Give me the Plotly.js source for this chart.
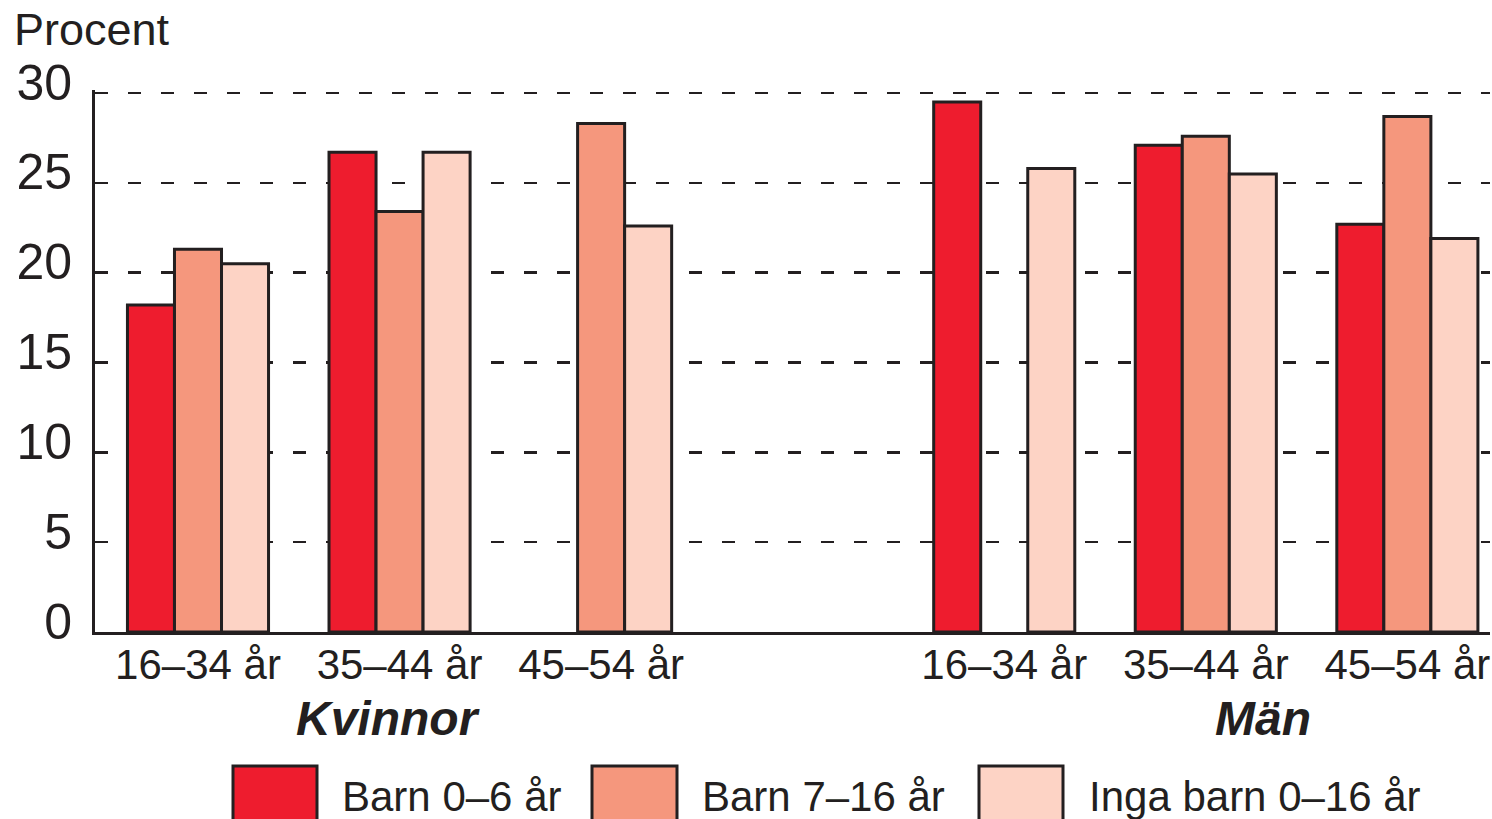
<!DOCTYPE html>
<html>
<head>
<meta charset="utf-8">
<script src="https://cdn.plot.ly/plotly-3.0.1.min.js"></script>
<style>html,body{margin:0;padding:0;background:#fff;}#chart{width:1492px;height:819px;}</style>
</head>
<body>
<div id="chart"></div>
<script>
// Data
const positions = [0, 1, 2, 4, 5, 6];
const tickLabels = ["16–34 år", "35–44 år", "45–54 år", "16–34 år", "35–44 år", "45–54 år"];
const seriesNames = ["Barn 0–6 år", "Barn 7–16 år", "Inga barn 0–16 år"];
const barn06 = [18.2, 26.7, null, 29.5, 27.1, 22.7];
const barn716 = [21.3, 23.4, 28.3, null, 27.6, 28.7];
const ingaBarn = [20.5, 26.7, 22.6, 25.8, 25.5, 21.9];
const groupLabels = ["Kvinnor", "Män"];
const yTicks = [0, 5, 10, 15, 20, 25, 30];

const colors = ["#EE1C2E", "#F5977D", "#FDD3C5"];
const outline = "#231F20";
const FONT = "Liberation Sans, Arial, Helvetica, sans-serif";

const seriesValues = [barn06, barn716, ingaBarn];
const traces = seriesValues.map((vals, i) => ({
  type: "bar",
  x: positions,
  y: vals,
  name: seriesNames[i],
  marker: {color: colors[i], line: {color: outline, width: 3}},
  hoverinfo: "x+y+name"
}));

// legend drawn as shapes + annotations (paper coords)
const TOP = 90, L = 95, W = 1395, B = 632, H = B - TOP;
const px = v => (v - L) / W;
const py = v => (B - v) / H;
const legendBoxes = [[233, 317, 340], [592, 677, 700], [979, 1063, 1087]];
const shapes = legendBoxes.map((b, i) => ({
  type: "rect", xref: "paper", yref: "paper",
  x0: px(b[0]), x1: px(b[1]), y0: py(766), y1: py(830),
  fillcolor: colors[i], line: {color: outline, width: 3}
}));
const annotations = legendBoxes.map((b, i) => ({
  xref: "paper", yref: "paper", x: px(b[2]), y: py(796),
  xanchor: "left", yanchor: "middle", showarrow: false,
  text: seriesNames[i], font: {family: FONT, size: 42, color: outline}
}));
annotations.push({
  xref: "paper", yref: "paper", x: px(12), y: py(30),
  xanchor: "left", yanchor: "middle", showarrow: false,
  text: "Procent", font: {family: FONT, size: 45, color: outline}
});
annotations.push({
  xref: "paper", yref: "paper", x: px(388), y: py(718),
  xanchor: "center", yanchor: "middle", showarrow: false,
  text: "<b><i>" + groupLabels[0] + "</i></b>", font: {family: FONT, size: 48, color: outline}
});
annotations.push({
  xref: "paper", yref: "paper", x: px(1263), y: py(718),
  xanchor: "center", yanchor: "middle", showarrow: false,
  text: "<b><i>" + groupLabels[1] + "</i></b>", font: {family: FONT, size: 48, color: outline}
});

const layout = {
  width: 1492, height: 819,
  margin: {l: 95, r: 2, t: TOP, b: 819 - B, pad: 0},
  paper_bgcolor: "#fff", plot_bgcolor: "#fff",
  barmode: "group", bargap: 0.3, bargroupgap: 0,
  showlegend: false,
  xaxis: {
    range: [-0.511, 6.41], tickvals: positions, ticktext: tickLabels,
    showgrid: false, zeroline: false, showline: true, linecolor: outline, linewidth: 3,
    ticks: "", ticklabelstandoff: -6,
    tickfont: {family: FONT, size: 42, color: outline}, fixedrange: true
  },
  yaxis: {
    range: [0, 30.17], tickvals: yTicks,
    showgrid: true, gridcolor: outline, gridwidth: 2.5, griddash: "13px,20px",
    zeroline: false, showline: true, linecolor: outline, linewidth: 3,
    ticks: "inside", ticklen: 12, tickwidth: 2.5, tickcolor: outline,
    ticklabelstandoff: 10, ticklabelshift: -11,
    tickfont: {family: FONT, size: 50, color: outline}, fixedrange: true
  },
  shapes: shapes,
  annotations: annotations
};

Plotly.newPlot("chart", traces, layout, {displayModeBar: false, staticPlot: true});
</script>
</body>
</html>
